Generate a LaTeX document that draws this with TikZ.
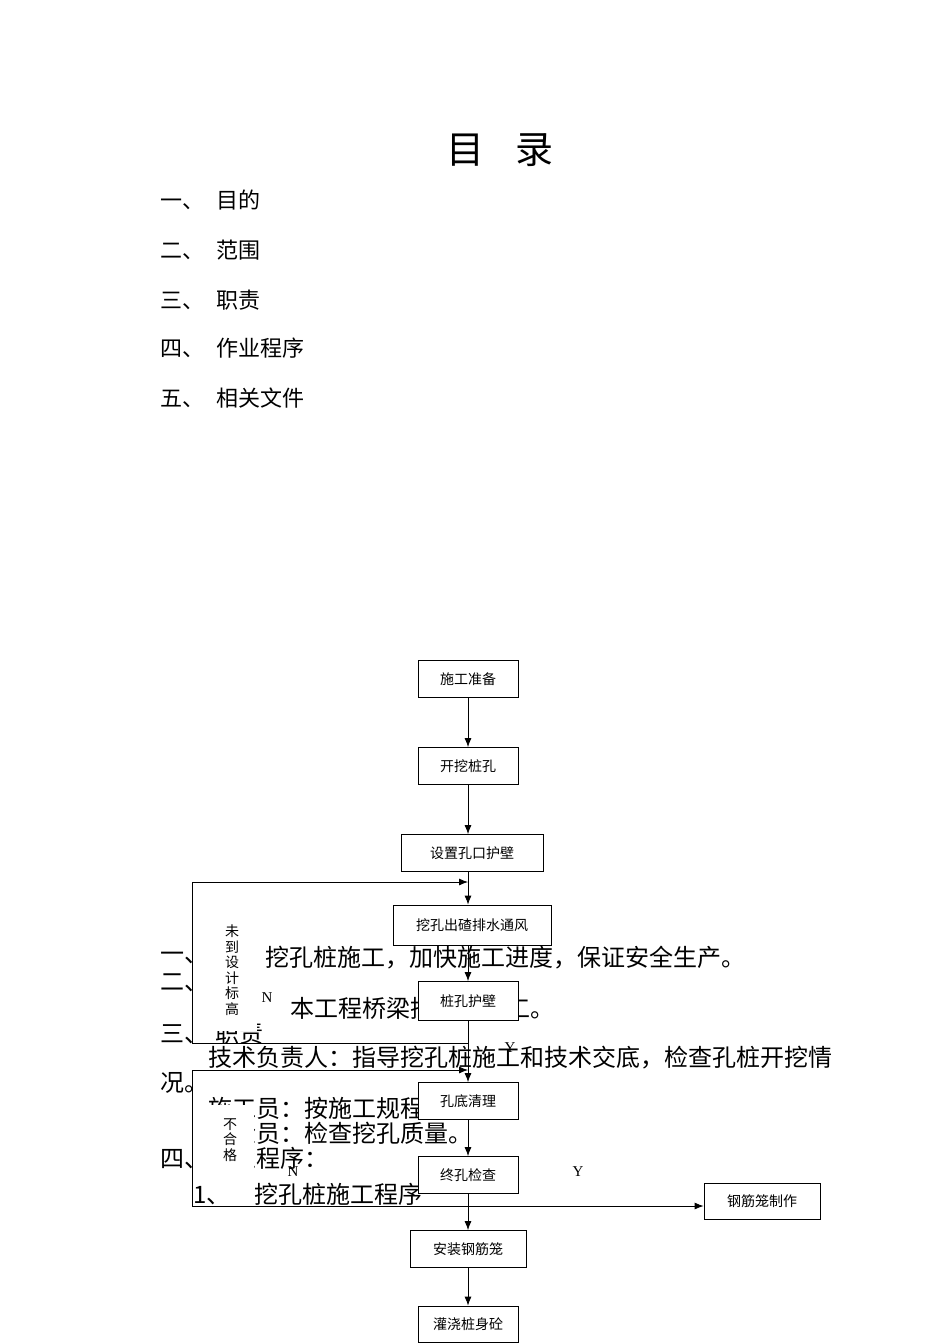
\documentclass[tikz,border=0pt]{standalone}
\usepackage{fontspec}
\usetikzlibrary{arrows.meta}
\setmainfont{Noto Sans CJK SC}
\newfontfamily\latinf{Liberation Serif}
\begin{document}
\begin{tikzpicture}[x=1pt,y=-1pt,
  body/.style={anchor=west,inner sep=0pt,font=\fontsize{24}{24}\selectfont},
  toc/.style={anchor=west,inner sep=0pt,font=\fontsize{22}{22}\selectfont},
  fbox/.style={draw,fill=white,line width=0.8pt,minimum height=37pt,inner sep=0pt,font=\fontsize{14}{14}\selectfont},
  lbl/.style={inner sep=0pt,font=\latinf\fontsize{15}{15}\selectfont},
  vbox/.style={fill=white,inner sep=0pt,align=center,font=\fontsize{14}{15.5}\selectfont},
  arr/.style={-{Latex[length=9pt,width=7pt]},line width=0.8pt},
  ln/.style={line width=0.8pt}]
\useasboundingbox (0,0) rectangle (950,1344);
\node[inner sep=0pt,font=\fontsize{38}{38}\selectfont] (title) at (500,150) {目\hspace{0.8em}录};
\foreach \t/\y [count=\i] in {目的/200,范围/250,职责/300,作业程序/348,相关文件/398}
  \node[toc] (toc\i) at (160,\y) {\ifcase\i\or 一\or 二\or 三\or 四\or 五\fi 、\hspace{12pt}\t};
% body text
\node[body] (b1) at (160,958) {一、};
\node[body] (b1t) at (265,958) {挖孔桩施工，加快施工进度，保证安全生产。};
\node[body] (b2) at (160,983) {二、};
\node[body] (b2t) at (290,1008) {本工程桥梁挖孔桩施工。};
\node[body] (b3) at (160,1033) {三、\hspace{0.3em}职责};
\node[body] (b4) at (208,1058) {技术负责人：指导挖孔桩施工和技术交底，检查孔桩开挖情};
\node[body] (b5) at (160,1083) {况。};
\node[body] (b6) at (208,1108) {施工员：按施工规程施工。};
\node[body] (b7) at (208,1133) {质检员：检查挖孔质量。};
\node[body] (b8) at (160,1158) {四、作业程序：};
\node[body] (b9) at (193,1194) {1、\quad 挖孔桩施工程序};
% vertical label boxes
\node[vbox,minimum width=50pt,minimum height=122pt] (v1) at (232,970) {未\\到\\设\\计\\标\\高};
\node[vbox,minimum width=48pt,minimum height=70pt] (v2) at (230,1140) {不\\合\\格};
% flow boxes
\node[fbox,minimum width=100pt] (s1) at (468,679) {施工准备};
\node[fbox,minimum width=100pt] (s2) at (468,766) {开挖桩孔};
\node[fbox,minimum width=142pt] (s3) at (472,853) {设置孔口护壁};
\node[fbox,minimum width=158pt,minimum height=40pt] (s4) at (472,925) {挖孔出碴排水通风};
\node[fbox,minimum width=100pt,minimum height=39pt] (s5) at (468,1001) {桩孔护壁};
\node[fbox,minimum width=100pt] (s6) at (468,1101) {孔底清理};
\node[fbox,minimum width=100pt] (s7) at (468,1175) {终孔检查};
\node[fbox,minimum width=116pt,minimum height=36pt] (s8) at (762,1201) {钢筋笼制作};
\node[fbox,minimum width=116pt] (s9) at (468,1249) {安装钢筋笼};
\node[fbox,minimum width=100pt,minimum height=36pt] (s10) at (468,1324) {灌浇桩身砼};
% coordinates
\coordinate (t1) at (468,882);
\coordinate (l1a) at (192,882);
\coordinate (l1b) at (192,1043);
\coordinate (r1b) at (468,1043);
\coordinate (t2) at (468,1070);
\coordinate (l2a) at (192,1070);
\coordinate (l2b) at (192,1206);
% connectors
\draw[arr] (s1) -- (s2);
\draw[arr] (s2) -- (s2 |- s3.north);
\draw[arr] (s2 |- s3.south) -- (s2 |- s4.north);
\draw[arr] (s5 |- s4.south) -- (s5);
\draw[arr] (s5) -- (s6);
\draw[arr] (s6) -- (s7);
\draw[arr] (s7) -- (s9);
\draw[arr] (s9) -- (s10);
\draw[ln] (r1b) -- (l1b) -- (l1a);
\draw[arr] (l1a) -- (t1);
\draw[ln] (l2b) -- (l2a);
\draw[arr] (l2a) -- (t2);
\draw[arr] (l2b) -- (s8.west |- l2b);
% labels
\node[lbl] (n1) at (267,998) {N};
\node[lbl] (y1) at (510,1048) {Y};
\node[lbl] (n2) at (293,1172) {N};
\node[lbl] (y2) at (578,1172) {Y};
\end{tikzpicture}
\end{document}
